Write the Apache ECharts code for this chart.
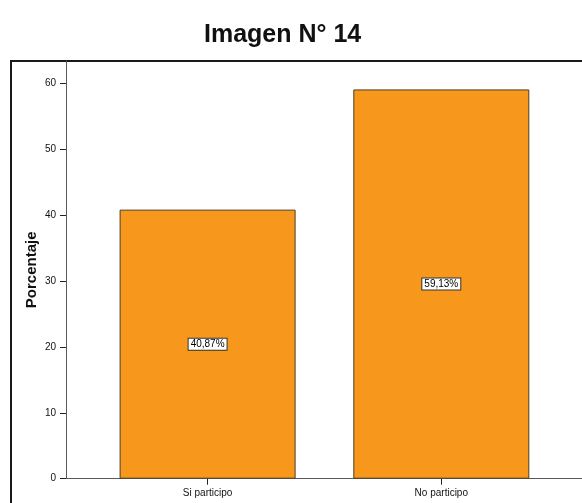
<!DOCTYPE html>
<html>
<head>
<meta charset="utf-8">
<script src="https://cdn.jsdelivr.net/npm/echarts@6/dist/echarts.min.js"></script>
<style>
  html, body { margin: 0; padding: 0; background: #fff; }
  #chart { width: 582px; height: 503px; }
</style>
</head>
<body>
<div id="chart"></div>
<script>
// Categories and their percentages
const categories = ['Si participo', 'No participo'];
const percentages = [40.87, 59.13];
// Value-axis ticks
const yMin = 0;
const yMax = 60;
const yStep = 10;

const fmtPct = v => v.toFixed(2).replace('.', ',') + '%';

const chart = echarts.init(document.getElementById('chart'), null, { renderer: 'canvas' });

chart.setOption({
  animation: false,
  backgroundColor: '#ffffff',
  textStyle: { fontFamily: 'Liberation Sans, Arial, sans-serif' },
  title: {
    text: 'Imagen N° 14',
    left: 199,
    top: 18,
    textStyle: { fontSize: 25, fontWeight: 'bold', color: '#111', fontFamily: 'Liberation Sans, Arial, sans-serif' }
  },
  graphic: [{
    type: 'rect',
    shape: { x: 11, y: 61, width: 620, height: 520 },
    style: { fill: 'none', stroke: '#1a1a1a', lineWidth: 2 },
    silent: true
  }],
  grid: [
    // axis-line frame (runs from the top of the box to the baseline)
    { left: 66, right: -20, top: 61, bottom: 24.3 },
    // bars, ticks and labels
    { left: 90.75, right: 23.85, top: 83.7, bottom: 24.3 }
  ],
  xAxis: [
    {
      gridIndex: 0, type: 'value', min: 0, max: 1,
      axisLine: { show: true, lineStyle: { color: '#5a5a5a', width: 1 } },
      axisTick: { show: false }, axisLabel: { show: false }, splitLine: { show: false }
    },
    {
      gridIndex: 1, type: 'category', data: categories,
      axisLine: { show: false },
      axisTick: { show: true, alignWithLabel: true, length: 6, lineStyle: { color: '#222' } },
      axisLabel: { fontSize: 10, color: '#111', margin: 10, fontFamily: 'Liberation Sans, Arial, sans-serif' },
      splitLine: { show: false }
    }
  ],
  yAxis: [
    {
      gridIndex: 0, type: 'value', min: 0, max: 1,
      name: 'Porcentaje', nameLocation: 'middle', nameRotate: 90, nameGap: 27,
      nameTextStyle: { fontSize: 15, fontWeight: 'bold', color: '#111', fontFamily: 'Liberation Sans, Arial, sans-serif' },
      axisLine: { show: true, lineStyle: { color: '#5a5a5a', width: 1 } },
      axisTick: { show: false }, axisLabel: { show: false }, splitLine: { show: false }
    },
    {
      gridIndex: 1, type: 'value', min: yMin, max: yMax, interval: yStep,
      offset: 24.75,
      axisLine: { show: false },
      axisTick: { show: true, inside: false, length: 6, lineStyle: { color: '#222' } },
      axisLabel: { fontSize: 10, color: '#111', margin: 10, fontFamily: 'Liberation Sans, Arial, sans-serif' },
      splitLine: { show: false }
    }
  ],
  series: [{
    type: 'bar',
    xAxisIndex: 1,
    yAxisIndex: 1,
    data: percentages,
    barWidth: 176,
    itemStyle: { color: '#F7981D', borderColor: '#4e3c22', borderWidth: 1 },
    label: {
      show: true,
      position: 'inside',
      formatter: p => fmtPct(p.value),
      fontSize: 10,
      color: '#000',
      fontFamily: 'Liberation Sans, Arial, sans-serif',
      backgroundColor: '#ffffff',
      borderColor: '#333',
      borderWidth: 1,
      padding: [1, 2, 0, 2]
    }
  }]
});
</script>
</body>
</html>
